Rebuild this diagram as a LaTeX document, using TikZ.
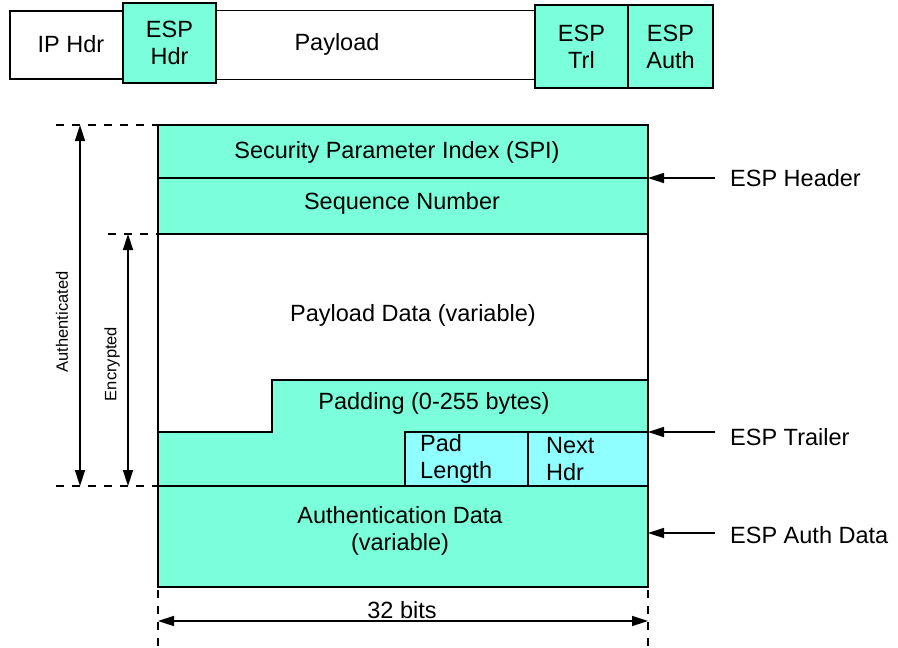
\documentclass[tikz,border=0pt]{standalone}
\usepackage{fontspec}
\setmainfont{Liberation Sans}
\usetikzlibrary{arrows.meta}
\definecolor{tealf}{RGB}{122,255,218}
\definecolor{cyanf}{RGB}{144,255,255}
\begin{document}
\begin{tikzpicture}[x=1pt,y=-1pt,
  box/.style={draw=black, line width=1.8pt, inner sep=0pt, outer sep=0pt, align=center,
    font=\fontsize{23.5}{27}\selectfont},
  txt/.style={inner sep=0pt, align=center, font=\fontsize{23.5}{27}\selectfont},
  small/.style={inner sep=0pt, font=\fontsize{16.5}{20}\selectfont},
  dsh/.style={line width=1.5pt, dash pattern=on 8pt off 8pt},
  arr/.style={line width=1.5pt, -{Triangle[length=16pt,width=10pt]}},
  darr/.style={line width=1.5pt, {Triangle[length=16pt,width=10pt]}-{Triangle[length=16pt,width=10pt]}}
]
\useasboundingbox (0,0) rectangle (898,648);
\fill[white] (0,0) rectangle (898,648);

% ---- top row ----
\node[box, fill=white, minimum width=113pt, minimum height=68pt] (ip) at (66.5,45) {};
\node[txt] (iptxt) at (71,44) {IP Hdr};
\node[box, fill=white, minimum width=319pt, minimum height=69pt] (pl) at (375.5,45) {};
\node[txt] (pltxt) at (337,44) {Payload};
\node[box, fill=tealf, minimum width=93pt, minimum height=80pt] (eh) at (169.5,43) {ESP\\Hdr};
\node[box, fill=tealf, minimum width=93pt, minimum height=83pt] (et) at (581.5,46.5) {ESP\\Trl};
\node[box, fill=tealf, minimum width=85pt, minimum height=83pt] (ea) at (670.5,46.5) {ESP\\Auth};

% ---- main packet ----
\node[box, fill=tealf, minimum width=490pt, minimum height=53pt] (spi) at (403,151.5) {};
\node[txt] (spitxt) at (397,152.5) {Security Parameter Index (SPI)};
\node[box, fill=tealf, minimum width=490pt, minimum height=56pt] (seq) at (403,206) {};
\node[txt] (seqtxt) at (402,203) {Sequence Number};
\node[box, fill=white, minimum width=490pt, minimum height=252pt] (pd) at (403,360) {};
\node[txt] (pdtxt) at (413,315) {Payload Data (variable)};
\draw[line width=1.8pt, fill=tealf] (158,486) -- (158,432) -- (272,432) -- (272,380) -- (648,380) -- (648,486) -- cycle;
\node[txt] (padtxt) at (434,403) {Padding (0-255 bytes)};
\node[box, fill=cyanf, minimum width=123pt, minimum height=54pt] (padlen) at (466.5,459) {};
\node[txt, align=left, anchor=west] (padlentxt) at (420,459) {Pad\\Length};
\node[box, fill=cyanf, minimum width=120pt, minimum height=54pt] (nexthdr) at (588,459) {};
\node[txt, align=left, anchor=west] (nexttxt) at (546,459) {Next\\Hdr};
\node[box, fill=tealf, minimum width=490pt, minimum height=101pt] (auth) at (403,536.5) {};
\node[txt] (authtxt) at (400,531) {Authentication Data\\(variable)};

% ---- left brackets ----
\coordinate (ta) at (56,125);
\coordinate (ea1) at (108,234);
\coordinate (ba) at (56,486);
\draw[dsh] (ta) -- (spi.north west);
\draw[dsh] (ea1) -- (seq.south west);
\draw[dsh] (ba) -- (auth.north west);
\coordinate (at) at (80,125);
\coordinate (ab) at (80,486);
\coordinate (et1) at (128,234);
\coordinate (eb) at (128,486);
\draw[darr] (at) -- (ab);
\draw[darr] (et1) -- (eb);
\node[small, rotate=90] (authlbl) at (62,322) {Authenticated};
\node[small, rotate=90] (enclbl) at (112,364) {Encrypted};

% ---- right labels ----
\node[txt, anchor=west] (hdrlbl) at (730,178) {ESP Header};
\node[txt, anchor=west] (trllbl) at (730,437) {ESP Trailer};
\node[txt, anchor=west] (adlbl) at (730,535) {ESP Auth Data};
\coordinate (hA) at (715,178);
\coordinate (tA) at (715,432);
\coordinate (aA) at (715,533);
\coordinate (aE) at (648,533);
\draw[arr] (hA) -- (spi.south east);
\draw[arr] (tA) -- (nexthdr.north east);
\draw[arr] (aA) -- (aE);

% ---- 32 bits ----
\coordinate (w1) at (158,590);
\coordinate (w1b) at (158,648);
\coordinate (w2) at (648,590);
\coordinate (w2b) at (648,648);
\draw[dsh] (w1) -- (w1b);
\draw[dsh] (w2) -- (w2b);
\coordinate (b1) at (158,621);
\coordinate (b2) at (648,621);
\draw[darr] (b1) -- (b2);
\node[txt, anchor=base] (bits) at (402,618) {32 bits};
\end{tikzpicture}
\end{document}
